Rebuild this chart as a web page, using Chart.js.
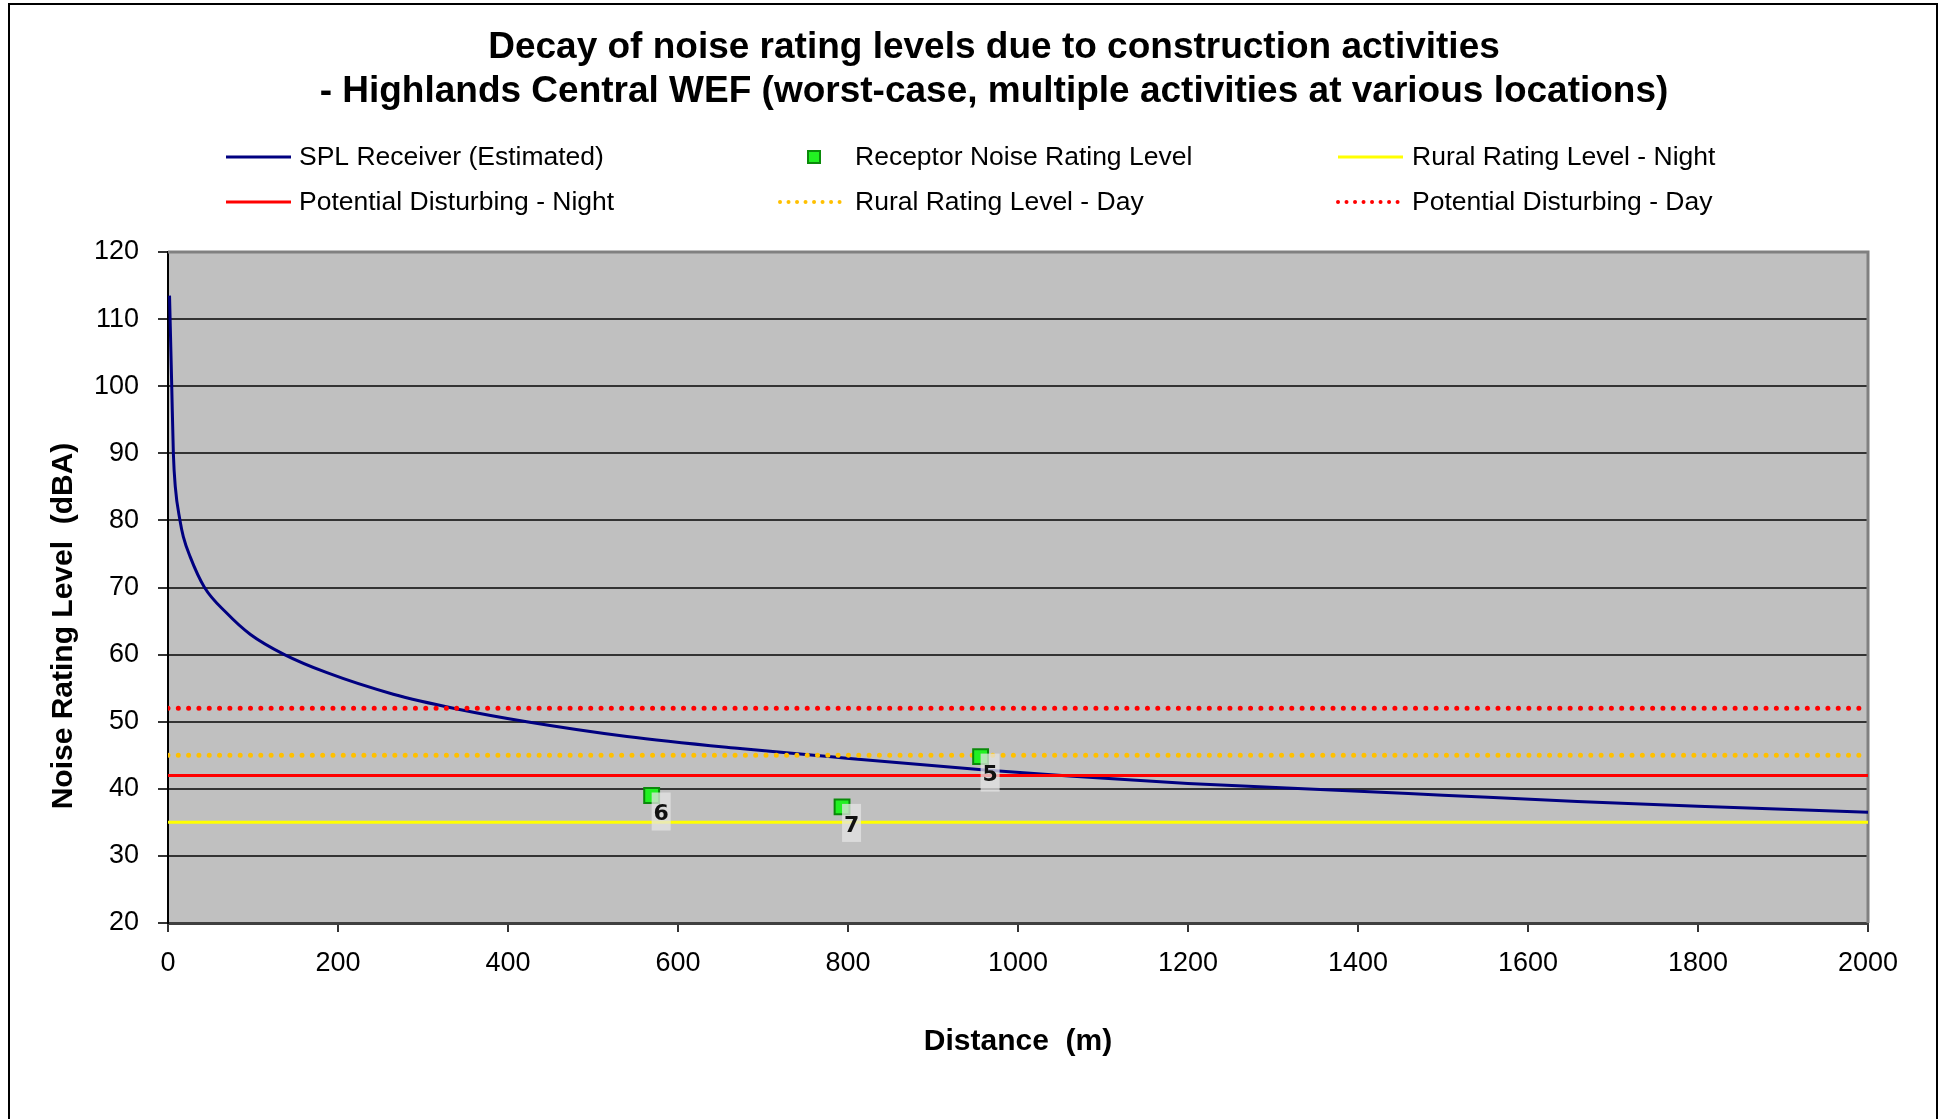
<!DOCTYPE html>
<html>
<head>
<meta charset="utf-8">
<script src="https://cdn.jsdelivr.net/npm/chart.js@4.4.1/dist/chart.umd.min.js"></script>
<style>
  body { margin: 0; background: #fff; }
  #wrap { position: relative; width: 1943px; height: 1119px; }
</style>
</head>
<body>
<div id="wrap"><canvas id="noiseChart" width="1943" height="1119"></canvas></div>
<script>
// SPL receiver curve (distance in m, level in dBA)
const distance = [1.8, 4.4, 6.3, 8.6, 14.1, 18, 26, 43, 69, 97, 137, 187, 265, 340, 422, 540, 673, 777, 961, 1060, 1200, 1375, 1500, 1658, 1800, 2000];
const splLevel = [113.5, 100, 90, 85, 80, 77.6, 74.6, 70, 66.2, 63.0, 60, 57.3, 54.1, 51.9, 50, 47.8, 46.0, 44.8, 42.8, 41.9, 40.8, 39.8, 39.05, 38.1, 37.4, 36.5];

// receptors
const receptorIds = ['6', '7', '5'];
const receptorDistance = [569, 793, 956];
const receptorLevel = [39.0, 37.3, 44.8];

// limits
const ruralNight = 35;
const potentialNight = 42;
const ruralDay = 45;
const potentialDay = 52;

const xRange = [0, 2000];
const yRange = [20, 120];

const titleLines = [
    'Decay of noise rating levels due to construction activities',
    '- Highlands Central WEF (worst-case, multiple activities at various locations)'
];
const xTitle = 'Distance  (m)';
const yTitle = 'Noise Rating Level  (dBA)';

const FONT = '"Liberation Sans", Arial, sans-serif';
Chart.defaults.font.family = FONT;
Chart.defaults.color = '#000';

function flat(level) {
    return [{ x: xRange[0], y: level }, { x: xRange[1], y: level }];
}

const datasets = [
    {
        label: 'SPL Receiver (Estimated)',
        data: distance.map((d, i) => ({ x: d, y: splLevel[i] })),
        showLine: true, borderColor: '#000080', borderWidth: 3,
        pointRadius: 0, cubicInterpolationMode: 'monotone',
        order: 6, slot: [0, 0]
    },
    {
        label: 'Receptor Noise Rating Level',
        data: receptorDistance.map((d, i) => ({ x: d, y: receptorLevel[i] })),
        showLine: false, pointStyle: 'rect', pointRadius: 10.5,
        backgroundColor: '#22f022', borderColor: '#0a8a0a', borderWidth: 2,
        order: 0, slot: [1, 0], isPoints: true
    },
    {
        label: 'Rural Rating Level - Night',
        data: flat(ruralNight),
        showLine: true, borderColor: '#ffff00', borderWidth: 3, pointRadius: 0,
        order: 5, slot: [2, 0]
    },
    {
        label: 'Potential Disturbing - Night',
        data: flat(potentialNight),
        showLine: true, borderColor: '#ff0000', borderWidth: 3, pointRadius: 0,
        order: 4, slot: [0, 1]
    },
    {
        label: 'Rural Rating Level - Day',
        data: flat(ruralDay),
        showLine: true, borderColor: '#ffc000', borderWidth: 5, pointRadius: 0,
        borderDash: [0.01, 10.3], borderCapStyle: 'round',
        order: 3, slot: [1, 1]
    },
    {
        label: 'Potential Disturbing - Day',
        data: flat(potentialDay),
        showLine: true, borderColor: '#ff0000', borderWidth: 5, pointRadius: 0,
        borderDash: [0.01, 10.3], borderCapStyle: 'round',
        order: 2, slot: [2, 1]
    }
];

// frame, plot background, titles, legend and point labels
const decor = {
    id: 'decor',
    beforeDraw(chart) {
        const { ctx, chartArea: a } = chart;
        ctx.save();
        ctx.fillStyle = '#fff';
        ctx.fillRect(0, 0, chart.width, chart.height);
        ctx.fillStyle = '#c0c0c0';
        ctx.fillRect(a.left, a.top, a.right - a.left, a.bottom - a.top);
        ctx.restore();
    },
    beforeDatasetsDraw(chart) {
        const { ctx, chartArea: a } = chart;
        ctx.save();
        ctx.strokeStyle = '#808080';
        ctx.lineWidth = 3;
        ctx.beginPath();
        ctx.moveTo(a.left, a.top);
        ctx.lineTo(a.right, a.top);
        ctx.lineTo(a.right, a.bottom);
        ctx.stroke();
        ctx.restore();
    },
    afterDatasetsDraw(chart) {
        const { ctx } = chart;
        const meta = chart.getDatasetMeta(1);
        ctx.save();
        ctx.font = 'bold 22px "DejaVu Sans", sans-serif';
        ctx.textAlign = 'center';
        ctx.textBaseline = 'middle';
        meta.data.forEach((pt, i) => {
            ctx.fillStyle = 'rgba(228,228,228,0.75)';
            ctx.fillRect(pt.x, pt.y - 3, 19, 38);
            ctx.fillStyle = '#111';
            ctx.fillText(receptorIds[i], pt.x + 9.5, pt.y + 19);
        });
        ctx.restore();
    },
    afterDraw(chart) {
        const { ctx, chartArea: a } = chart;
        ctx.save();
        // outer frame
        ctx.strokeStyle = '#000';
        ctx.lineWidth = 2;
        ctx.beginPath();
        ctx.moveTo(9, 1125);
        ctx.lineTo(9, 4);
        ctx.lineTo(1937, 4);
        ctx.lineTo(1937, 1125);
        ctx.stroke();

        // chart title
        ctx.fillStyle = '#000';
        ctx.textAlign = 'center';
        ctx.textBaseline = 'middle';
        ctx.font = 'bold 37px ' + FONT;
        ctx.fillText(titleLines[0], 994, 48);
        ctx.fillText(titleLines[1], 994, 92);

        // axis titles
        ctx.font = 'bold 30px ' + FONT;
        ctx.fillText(xTitle, (a.left + a.right) / 2, 1042);
        ctx.save();
        ctx.translate(64, 626);
        ctx.rotate(-Math.PI / 2);
        ctx.fillText(yTitle, 0, 0);
        ctx.restore();

        // legend, 3 columns x 2 rows
        const sampleX = [224, 778, 1336];
        const textX = [299, 855, 1412];
        const rowY = [157, 202];
        ctx.font = '26.5px ' + FONT;
        ctx.textAlign = 'left';
        chart.data.datasets.forEach(ds => {
            const [c, r] = ds.slot;
            const y = rowY[r];
            if (ds.isPoints) {
                ctx.fillStyle = ds.backgroundColor;
                ctx.strokeStyle = ds.borderColor;
                ctx.lineWidth = 2;
                ctx.fillRect(sampleX[c] + 30, y - 6, 12, 12);
                ctx.strokeRect(sampleX[c] + 30, y - 6, 12, 12);
            } else {
                ctx.strokeStyle = ds.borderColor;
                ctx.lineWidth = ds.borderDash ? 4 : 3;
                ctx.lineCap = ds.borderDash ? 'round' : 'butt';
                ctx.setLineDash(ds.borderDash ? [0.01, 8.5] : []);
                ctx.beginPath();
                ctx.moveTo(sampleX[c] + 2, y);
                ctx.lineTo(sampleX[c] + 67, y);
                ctx.stroke();
                ctx.setLineDash([]);
            }
            ctx.fillStyle = '#000';
            ctx.fillText(ds.label, textX[c], y + 1);
        });
        ctx.restore();
    }
};

new Chart(document.getElementById('noiseChart'), {
    type: 'scatter',
    data: { datasets: datasets },
    options: {
        responsive: false,
        animation: false,
        layout: { padding: { left: 0, right: 75, top: 252, bottom: 0 } },
        plugins: {
            legend: { display: false },
            title: { display: false },
            tooltip: { enabled: false }
        },
        scales: {
            x: {
                type: 'linear',
                min: xRange[0], max: xRange[1],
                afterFit(scale) { scale.height = 196; },
                ticks: { stepSize: 200, font: { size: 27 }, color: '#000', padding: 15, maxRotation: 0, callback: v => String(v) },
                grid: { drawOnChartArea: false, drawTicks: true, tickLength: 9, color: '#333', lineWidth: 2 },
                border: { display: true, color: '#404040', width: 3 }
            },
            y: {
                min: yRange[0], max: yRange[1],
                afterFit(scale) { scale.width = 168; },
                ticks: { stepSize: 10, font: { size: 27 }, color: '#000', padding: 19, callback: v => String(v) },
                grid: { color: '#333', lineWidth: 2, tickLength: 10 },
                border: { display: true, color: '#000', width: 2 }
            }
        }
    },
    plugins: [decor]
});
</script>
</body>
</html>
